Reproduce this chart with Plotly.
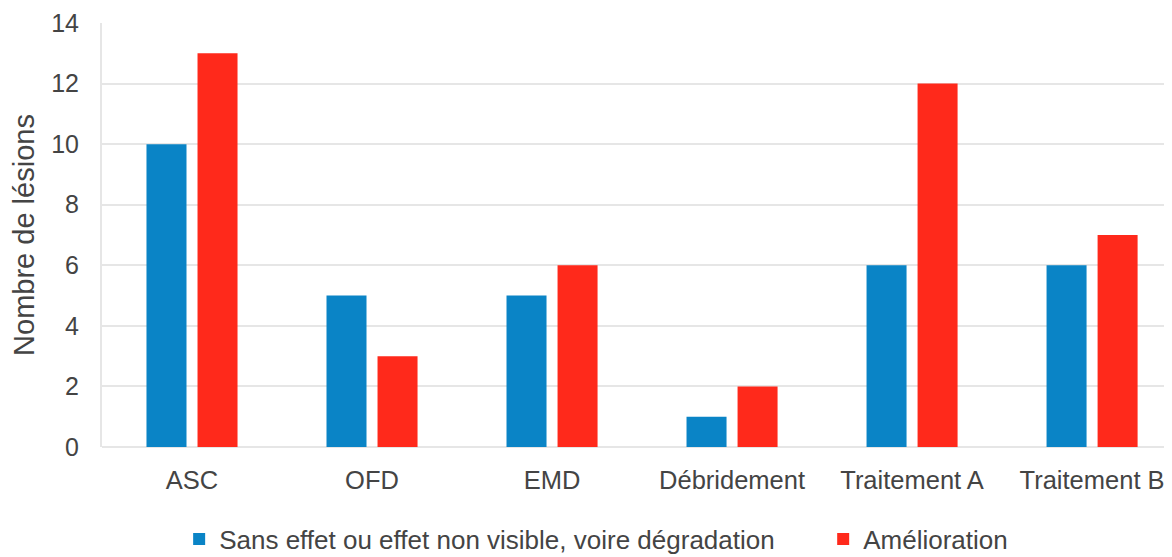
import plotly.graph_objects as go

categories = ["ASC", "OFD", "EMD", "Débridement", "Traitement A", "Traitement B"]
sans_effet = [10, 5, 5, 1, 6, 6]
amelioration = [13, 3, 6, 2, 12, 7]
series_names = ["Sans effet ou effet non visible, voire dégradation", "Amélioration"]
y_ticks = [0, 2, 4, 6, 8, 10, 12, 14]

BLUE = "#0A84C6"
RED = "#FF291B"
TXT = "#444444"
FONT = "Liberation Sans, Arial, sans-serif"

fig = go.Figure()
fig.add_trace(go.Bar(x=categories, y=sans_effet, name=series_names[0], legend="legend",
                     marker=dict(color=BLUE, line=dict(width=0))))
fig.add_trace(go.Bar(x=categories, y=amelioration, name=series_names[1], legend="legend2",
                     marker=dict(color=RED, line=dict(width=0))))

leg_common = dict(orientation="h", xref="paper", xanchor="left", yref="paper", y=-0.162, yanchor="top",
                  font=dict(size=26, color=TXT), itemwidth=30, bgcolor="rgba(0,0,0,0)")

fig.update_layout(
    width=1164, height=549,
    margin=dict(l=94, r=0, t=15, b=110, autoexpand=False),
    paper_bgcolor="white", plot_bgcolor="white",
    barmode="group", bargap=0.433, bargroupgap=0.216,
    font=dict(family=FONT, color=TXT, size=25),
    showlegend=True,
    legend=dict(x=0.0721, **leg_common),
    legend2=dict(x=0.674, **leg_common),
    xaxis=dict(range=[-0.5, 5.444], showgrid=False, showline=False, zeroline=False, automargin=False,
               ticks="", ticklabelstandoff=15, tickfont=dict(size=25.5, color=TXT)),
    yaxis=dict(range=[0, 14], tickvals=y_ticks, showgrid=True, gridcolor="#E6E6E6", gridwidth=2,
               zeroline=True, zerolinecolor="#E6E6E6", zerolinewidth=2, automargin=False,
               showline=True, linecolor="#E6E6E6", linewidth=2,
               ticks="", ticklabelstandoff=16, tickfont=dict(size=25, color=TXT),
               title=dict(text="Nombre de lésions", font=dict(size=29, color=TXT), standoff=16)),
)

fig.write_html("out.html")
